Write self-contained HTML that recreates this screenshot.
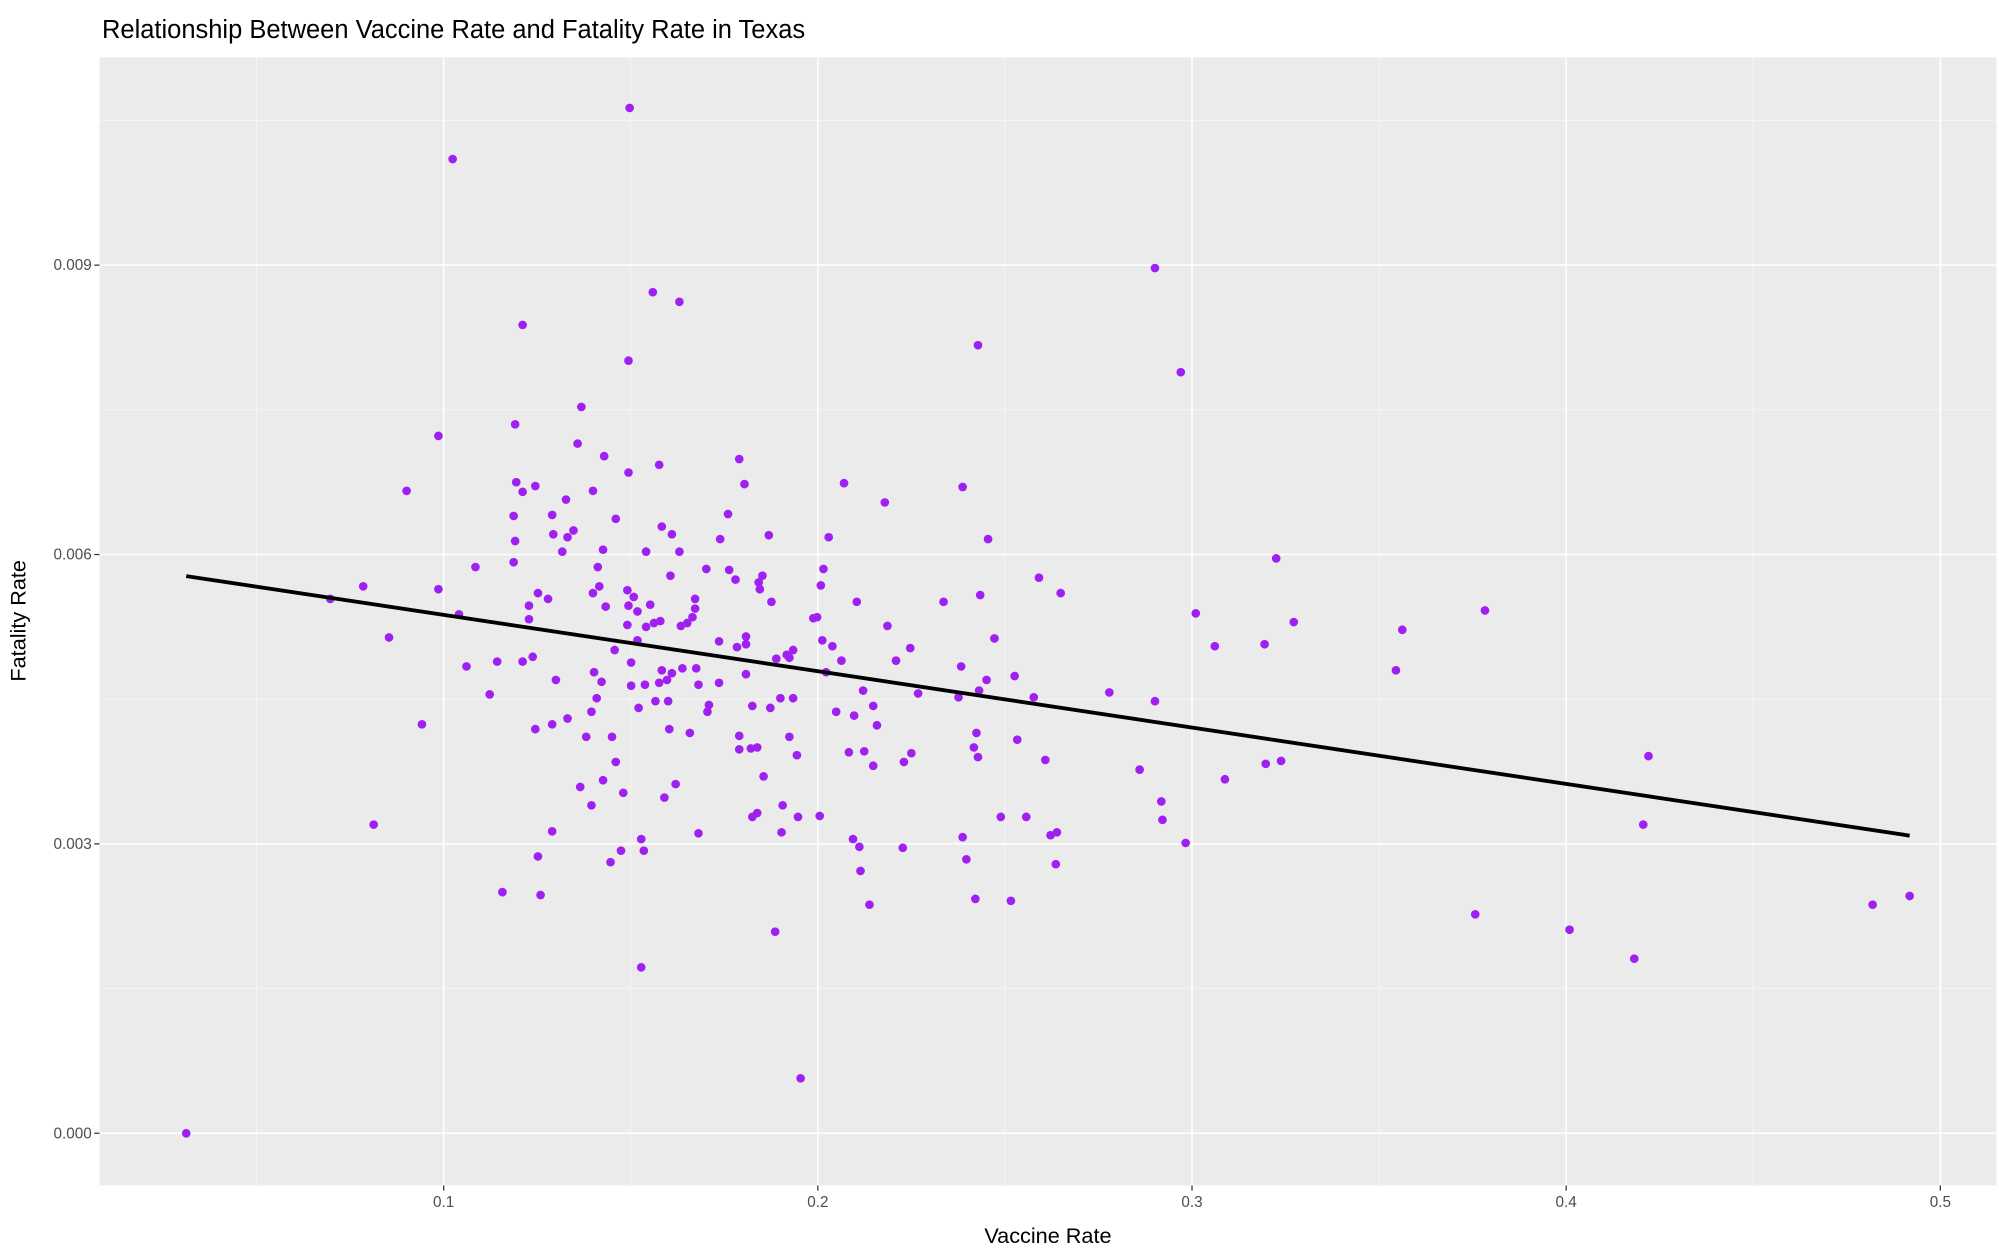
<!DOCTYPE html>
<html><head><meta charset="utf-8"><style>
html,body{margin:0;padding:0;background:#fff;}
svg{display:block;}
text{font-family:"Liberation Sans",Arial,sans-serif;}
</style></head><body>
<svg id="chart" width="1999" height="1248" viewBox="0 0 1568 979" preserveAspectRatio="none" xmlns="http://www.w3.org/2000/svg">
<text x="80" y="30" font-size="20" fill="#000">Relationship Between Vaccine Rate and Fatality Rate in Texas</text>
<rect x="78" y="45" width="1488" height="885" fill="#ebebeb"/>
<g id="grid"></g>
<g id="ticks"></g>
<g id="points"></g>
<g id="fit"></g>
<text x="822" y="975" font-size="17" text-anchor="middle" fill="#000">Vaccine Rate</text>
<text transform="translate(20,487) rotate(-90)" font-size="17" text-anchor="middle" fill="#000">Fatality Rate</text>
</svg>
<script>
const xTicks = [0.1,0.2,0.3,0.4,0.5];
const xTickLabels = ["0.1","0.2","0.3","0.4","0.5"];
const yTicks = [0,0.003,0.006,0.009];
const yTickLabels = ["0.000","0.003","0.006","0.009"];
const vaccineRate = [0.0312,0.1497,0.1024,0.2901,0.1559,0.1630,0.1211,0.2428,0.2970,0.1494,0.1368,0.1191,0.0986,0.1358,0.1790,0.1429,0.1576,0.1494,0.0901,0.1194,0.1245,0.1211,0.1399,0.1804,0.2070,0.2387,0.2179,0.1327,0.1760,0.1290,0.1460,0.1187,0.1347,0.1583,0.1610,0.1869,0.2029,0.1293,0.1331,0.2455,0.1191,0.1739,0.1317,0.1426,0.1541,0.1630,0.3225,0.1187,0.1085,0.1412,0.1702,0.1763,0.2015,0.1852,0.2591,0.1606,0.1842,0.1780,0.2008,0.0785,0.0986,0.1416,0.1491,0.1252,0.1399,0.1845,0.2649,0.2434,0.1508,0.1672,0.0697,0.1279,0.1876,0.2104,0.2336,0.1494,0.1552,0.1672,0.3783,0.1228,0.1518,0.1433,0.3010,0.1041,0.1579,0.1562,0.1665,0.1988,0.1998,0.1651,0.1634,0.1228,0.3272,0.2186,0.3562,0.1541,0.1491,0.1808,0.2472,0.1736,0.1784,0.2012,0.1518,0.0854,0.1808,0.2039,0.2247,0.3194,0.3061,0.1934,0.1457,0.1917,0.1924,0.2209,0.1889,0.2063,0.1211,0.1143,0.1501,0.1238,0.1061,0.2383,0.1675,0.1638,0.1583,0.1402,0.3545,0.2022,0.1610,0.1808,0.2526,0.2451,0.1422,0.1300,0.1576,0.1681,0.1736,0.1597,0.1538,0.1501,0.2121,0.2431,0.2779,0.2268,0.1123,0.2376,0.2577,0.2901,0.1934,0.1900,0.1409,0.1600,0.1566,0.1709,0.1873,0.1825,0.1521,0.2148,0.2049,0.1395,0.1705,0.2097,0.1331,0.1290,0.0942,0.1245,0.1603,0.1658,0.2158,0.1381,0.1450,0.1790,0.1924,0.2533,0.2424,0.1838,0.1821,0.1790,0.2083,0.2124,0.2417,0.2250,0.2428,0.4220,0.1944,0.2608,0.3238,0.3197,0.1460,0.2230,0.2148,0.2860,0.1855,0.3088,0.1620,0.1426,0.1365,0.1590,0.2918,0.1395,0.1906,0.1480,0.2005,0.2489,0.2557,0.1838,0.1825,0.1947,0.2921,0.4206,0.0813,0.1290,0.1681,0.1903,0.2639,0.2622,0.2387,0.1528,0.2094,0.2983,0.2227,0.2111,0.1535,0.1474,0.1252,0.2397,0.2636,0.1446,0.2114,0.1157,0.1259,0.4918,0.2421,0.2516,0.2138,0.4819,0.3757,0.4009,0.1886,0.4182,0.1528,0.1954];
const fatalityRate = [0,0.01063,0.01010,0.00897,0.00872,0.00862,0.00838,0.00817,0.00789,0.00801,0.00753,0.00735,0.00723,0.00715,0.00699,0.00702,0.00693,0.00685,0.00666,0.00675,0.00671,0.00665,0.00666,0.00673,0.00674,0.00670,0.00654,0.00657,0.00642,0.00641,0.00637,0.00640,0.00625,0.00629,0.00621,0.00620,0.00618,0.00621,0.00618,0.00616,0.00614,0.00616,0.00603,0.00605,0.00603,0.00603,0.00596,0.00592,0.00587,0.00587,0.00585,0.00584,0.00585,0.00578,0.00576,0.00578,0.00571,0.00574,0.00568,0.00567,0.00564,0.00567,0.00563,0.00560,0.00560,0.00564,0.00560,0.00558,0.00556,0.00554,0.00554,0.00554,0.00551,0.00551,0.00551,0.00547,0.00548,0.00544,0.00542,0.00547,0.00541,0.00546,0.00539,0.00538,0.00531,0.00529,0.00535,0.00534,0.00535,0.00529,0.00526,0.00533,0.00530,0.00526,0.00522,0.00525,0.00527,0.00515,0.00513,0.00510,0.00504,0.00511,0.00511,0.00514,0.00507,0.00505,0.00503,0.00507,0.00505,0.00501,0.00501,0.00496,0.00493,0.00490,0.00492,0.00490,0.00489,0.00489,0.00488,0.00494,0.00484,0.00484,0.00482,0.00482,0.00480,0.00478,0.00480,0.00478,0.00477,0.00476,0.00474,0.00470,0.00468,0.00470,0.00467,0.00465,0.00467,0.00470,0.00465,0.00464,0.00459,0.00459,0.00457,0.00456,0.00455,0.00452,0.00452,0.00448,0.00451,0.00451,0.00451,0.00448,0.00448,0.00444,0.00441,0.00443,0.00441,0.00443,0.00437,0.00437,0.00437,0.00433,0.00430,0.00424,0.00424,0.00419,0.00419,0.00415,0.00423,0.00411,0.00411,0.00412,0.00411,0.00408,0.00415,0.00400,0.00399,0.00398,0.00395,0.00396,0.00400,0.00394,0.00390,0.00391,0.00392,0.00387,0.00386,0.00383,0.00385,0.00385,0.00381,0.00377,0.00370,0.00367,0.00362,0.00366,0.00359,0.00348,0.00344,0.00340,0.00340,0.00353,0.00329,0.00328,0.00328,0.00332,0.00328,0.00328,0.00325,0.00320,0.00320,0.00313,0.00311,0.00312,0.00312,0.00309,0.00307,0.00305,0.00305,0.00301,0.00296,0.00297,0.00293,0.00293,0.00287,0.00284,0.00279,0.00281,0.00272,0.00250,0.00247,0.00246,0.00243,0.00241,0.00237,0.00237,0.00227,0.00211,0.00209,0.00181,0.00172,0.00057];

const NS='http://www.w3.org/2000/svg';
const PL=78, PR=1566, PT=45, PB=930;
function xs(v){return 54.5 + v*2935;}
function ys(v){return 889 - v*75667;}
function mk(tag, attrs, parent){const e=document.createElementNS(NS,tag);for(const k in attrs)e.setAttribute(k,attrs[k]);parent.appendChild(e);return e;}
const grid=document.getElementById('grid'), ticks=document.getElementById('ticks');
// minor gridlines
for(let i=0;i<xTicks.length;i++){
  const mv=xTicks[i]-0.05;
  const l=mk('line',{x1:xs(mv),x2:xs(mv),y1:PT,y2:PB,stroke:'#f5f5f5','stroke-width':0.7},grid);
  
  
}
for(let i=0;i<yTicks.length;i++){
  const mv=yTicks[i]+0.0015;
  if(ys(mv)<PT) continue;
  const l=mk('line',{x1:PL,x2:PR,y1:ys(mv),y2:ys(mv),stroke:'#f5f5f5','stroke-width':0.7},grid);
  
  
}
xTicks.forEach((v,i)=>{
  const l=mk('line',{x1:xs(v),x2:xs(v),y1:PT,y2:PB,stroke:'#fff','stroke-width':1.2},grid);
  
  
  const t=mk('line',{x1:xs(v),x2:xs(v),y1:PB,y2:PB+4,stroke:'#333','stroke-width':1},ticks);
  
  
  const tx=mk('text',{x:xs(v),y:PB+17,'font-size':12,'text-anchor':'middle',fill:'#4d4d4d'},ticks);
  tx.textContent=xTickLabels[i];
  
  
});
yTicks.forEach((v,i)=>{
  const l=mk('line',{x1:PL,x2:PR,y1:ys(v),y2:ys(v),stroke:'#fff','stroke-width':1.2},grid);
  
  
  const t=mk('line',{x1:PL-4,x2:PL,y1:ys(v),y2:ys(v),stroke:'#333','stroke-width':1},ticks);
  
  
  const tx=mk('text',{x:PL-6,y:ys(v)+4,'font-size':12,'text-anchor':'end',fill:'#4d4d4d'},ticks);
  tx.textContent=yTickLabels[i];
  
  
});
const pts=document.getElementById('points');
for(let i=0;i<vaccineRate.length;i++){
  const c=mk('circle',{cx:xs(vaccineRate[i]),cy:ys(fatalityRate[i]),r:3.4,fill:'#a020f0'},pts);
  
  
}
// linear fit
const n=vaccineRate.length;
let mx=0,my=0;for(let i=0;i<n;i++){mx+=vaccineRate[i];my+=fatalityRate[i];}mx/=n;my/=n;
let sxy=0,sxx=0;for(let i=0;i<n;i++){sxy+=(vaccineRate[i]-mx)*(fatalityRate[i]-my);sxx+=(vaccineRate[i]-mx)**2;}
const slope=sxy/sxx, icpt=my-slope*mx;
const x0=Math.min(...vaccineRate), x1=Math.max(...vaccineRate);
const fl=mk('line',{x1:xs(x0),y1:ys(icpt+slope*x0),x2:xs(x1),y2:ys(icpt+slope*x1),stroke:'#000','stroke-width':3},document.getElementById('fit'));


</script>
</body></html>
